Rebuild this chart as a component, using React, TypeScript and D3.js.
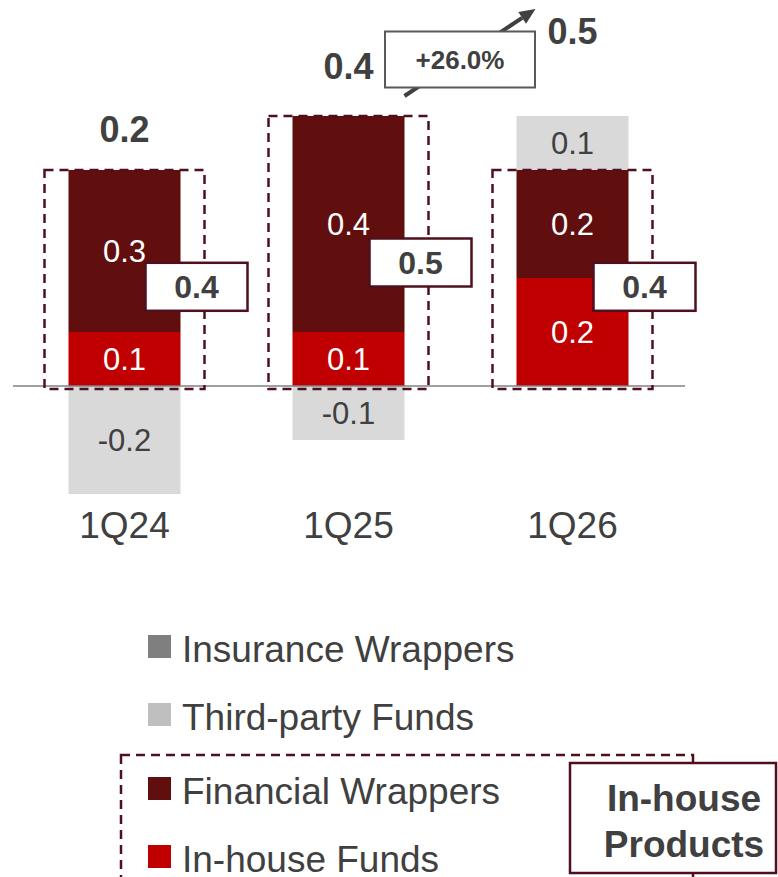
import React from 'react';
import * as d3 from 'd3';

const categories = ['1Q24', '1Q25', '1Q26'];
const inHouseFunds = [0.1, 0.1, 0.2];
const financialWrappers = [0.3, 0.4, 0.2];
const thirdPartyFunds = [-0.2, -0.1, 0.1];
const insuranceWrappers = [0, 0, 0];
const totals = [0.2, 0.4, 0.5];
const inHouseTotals = [0.4, 0.5, 0.4];
const growthLabel = '+26.0%';
const legendLabels = ['Insurance Wrappers', 'Third-party Funds', 'Financial Wrappers', 'In-house Funds'];
const inHouseBoxLabel = ['In-house', 'Products'];

const W = 778;
const H = 877;
const FONT = "'Liberation Sans', Arial, sans-serif";
const C_DARK = '#600e0e';
const C_RED = '#c00000';
const C_TP = '#d9d9d9';
const C_TP_LEG = '#bfbfbf';
const C_INS = '#7f7f7f';
const C_TEXT = '#404040';
const C_MAROON = '#4f0f1e';

export default function App() {
  const x = d3.scaleBand<string>().domain(categories).range([12.5, 684.5]).paddingInner(0.5).paddingOuter(0.25);
  const y = d3.scaleLinear().domain([-0.2, 0.5]).range([494, 116]);
  const bw = x.bandwidth();
  const f1 = d3.format('.1f');
  const fmt = (v: number) => f1(v).replace('\u2212', '-');
  const y0 = y(0);

  const segs: { key: string; x: number; y1: number; y2: number; color: string; label: string; textColor: string }[] = [];
  categories.forEach((c, i) => {
    const xi = x(c)!;
    const a = inHouseFunds[i];
    const b = financialWrappers[i];
    const t = thirdPartyFunds[i];
    segs.push({ key: c + 'ih', x: xi, y1: 0, y2: a, color: C_RED, label: fmt(a), textColor: '#fff' });
    segs.push({ key: c + 'fw', x: xi, y1: a, y2: a + b, color: C_DARK, label: fmt(b), textColor: '#fff' });
    if (t < 0) segs.push({ key: c + 'tp', x: xi, y1: t, y2: 0, color: C_TP, label: fmt(t), textColor: C_TEXT });
    else if (t > 0) segs.push({ key: c + 'tp', x: xi, y1: a + b, y2: a + b + t, color: C_TP, label: fmt(t), textColor: C_TEXT });
  });

  const posTop = categories.map((_, i) => inHouseFunds[i] + financialWrappers[i] + Math.max(0, thirdPartyFunds[i]) + insuranceWrappers[i]);

  // growth arrow geometry derived from bars 2 and 3
  const ax1 = x(categories[1])! + bw;
  const ay1 = y(posTop[1]) - 20;
  const ax2 = x(categories[2])! + bw / 2 - 37;
  const ay2 = y(posTop[2]) - 107;
  const ang = Math.atan2(ay2 - ay1, ax2 - ax1);
  const hl = 16, hw = 7;
  const hx = ax2 - hl * Math.cos(ang), hy = ay2 - hl * Math.sin(ang);
  const head = [
    [ax2, ay2],
    [hx + hw * Math.sin(ang), hy - hw * Math.cos(ang)],
    [hx - hw * Math.sin(ang), hy + hw * Math.cos(ang)],
  ];
  const gcx = (ax1 + ax2) / 2 - 10;
  const gcy = (ay1 + ay2) / 2 + 7;

  const legendColors = [C_INS, C_TP_LEG, C_DARK, C_RED];
  const legendTops = [635, 703, 777, 845];

  return (
    <svg width={W} height={H} style={{ position: 'absolute', left: 0, top: 0, display: 'block', background: '#fff' }} fontFamily={FONT}>
      {/* bars */}
      {segs.map((s) => (
        <rect key={s.key} x={s.x} width={bw} y={y(Math.max(s.y1, s.y2))} height={Math.abs(y(s.y1) - y(s.y2))} fill={s.color} />
      ))}
      {segs.map((s) => (
        <text key={s.key + 't'} x={s.x + bw / 2} y={(y(s.y1) + y(s.y2)) / 2 + 11} textAnchor="middle" fontSize={31} fill={s.textColor}>
          {s.label}
        </text>
      ))}
      {/* baseline */}
      <line x1={13} x2={685} y1={y0} y2={y0} stroke="#808080" strokeWidth={1.5} />
      {/* in-house dashed boxes */}
      {categories.map((c, i) => (
        <rect key={c + 'db'} x={x(c)! - 24} width={bw + 48} y={y(inHouseTotals[i])} height={y0 + 3 - y(inHouseTotals[i])} fill="none" stroke={C_MAROON} strokeWidth={2.5} strokeDasharray="9 6" />
      ))}
      {/* in-house total boxes */}
      {categories.map((c, i) => {
        const cx = x(c)! + bw / 2 + 72;
        const cy = y(inHouseTotals[i] * 0.45) - 2;
        return (
          <g key={c + 'ib'}>
            <rect x={cx - 51} y={cy - 24} width={102} height={48} fill="#fff" stroke={C_MAROON} strokeWidth={2.5} />
            <text x={cx} y={cy + 11} textAnchor="middle" fontSize={32} fontWeight="bold" fill={C_TEXT}>{fmt(inHouseTotals[i])}</text>
          </g>
        );
      })}
      {/* category labels */}
      {categories.map((c) => (
        <text key={c + 'cl'} x={x(c)! + bw / 2} y={538} textAnchor="middle" fontSize={37} fill={C_TEXT}>{c}</text>
      ))}
      {/* totals */}
      <text x={x(categories[0])! + bw / 2} y={y(posTop[0]) - 28} textAnchor="middle" fontSize={36} fontWeight="bold" fill={C_TEXT}>{fmt(totals[0])}</text>
      <text x={ax1 - 31} y={ay1 - 17} textAnchor="end" fontSize={36} fontWeight="bold" fill={C_TEXT}>{fmt(totals[1])}</text>
      <text x={ax2 + 12} y={ay2 + 35} textAnchor="start" fontSize={36} fontWeight="bold" fill={C_TEXT}>{fmt(totals[2])}</text>
      {/* growth arrow */}
      <line x1={ax1} y1={ay1} x2={hx} y2={hy} stroke={C_TEXT} strokeWidth={4} />
      <polygon points={head.map((p) => p.join(',')).join(' ')} fill={C_TEXT} />
      <rect x={gcx - 75} y={gcy - 28} width={150} height={56} fill="#fff" stroke="#595959" strokeWidth={2} />
      <text x={gcx} y={gcy + 9} textAnchor="middle" fontSize={26} fontWeight="bold" fill={C_TEXT}>{growthLabel}</text>
      {/* legend */}
      <rect x={121} y={755} width={572} height={160} fill="none" stroke={C_MAROON} strokeWidth={2.5} strokeDasharray="9 6" />
      {legendLabels.map((l, i) => (
        <g key={l}>
          <rect x={148} y={legendTops[i]} width={23} height={23} fill={legendColors[i]} />
          <text x={182} y={legendTops[i] + 27} fontSize={37} fill={C_TEXT}>{l}</text>
        </g>
      ))}
      <rect x={570} y={763} width={206} height={110} fill="#fff" stroke={C_MAROON} strokeWidth={2.5} />
      <text x={684} y={811} textAnchor="middle" fontSize={37} fontWeight="bold" fill={C_TEXT}>{inHouseBoxLabel[0]}</text>
      <text x={684} y={857} textAnchor="middle" fontSize={37} fontWeight="bold" fill={C_TEXT}>{inHouseBoxLabel[1]}</text>
    </svg>
  );
}
